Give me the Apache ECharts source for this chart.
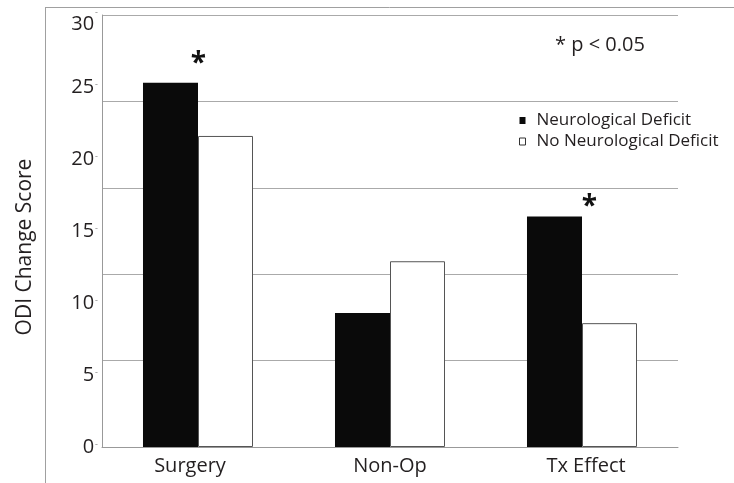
<!DOCTYPE html>
<html>
<head>
<meta charset="utf-8">
<script src="https://cdn.jsdelivr.net/npm/echarts@6/dist/echarts.min.js"></script>
<style>html,body{margin:0;padding:0;background:#fff;}#c{width:734px;height:483px;}</style>
</head>
<body>
<div id="c"></div>
<script>
const categories = ['Surgery', 'Non-Op', 'Tx Effect'];
const neuroDeficit = [25.3, 9.3, 16.0];
const noNeuroDeficit = [21.6, 12.9, 8.6];
const significant = [true, false, true];
const yTicks = [0, 5, 10, 15, 20, 25, 30];
const gridValues = [6, 12, 18, 24];

const FONT = '"Open Sans", sans-serif';
const TXT = '#231f20';

const chart = echarts.init(document.getElementById('c'), null, {renderer: 'canvas'});

const starOffsets = [[28, -5], [0, 0], [35, 4]];
const catStyle = {
  c0: {fontFamily: FONT, fontSize: 20, color: TXT, padding: [0, 16, 0, 0]},
  c1: {fontFamily: FONT, fontSize: 20, color: TXT},
  c2: {fontFamily: FONT, fontSize: 20, color: TXT, padding: [0, 0, 0, 8]}
};

const option = {
  animation: false,
  backgroundColor: '#fff',
  textStyle: {fontFamily: FONT},
  grid: {left: 102, right: 56, top: 15, bottom: 36, containLabel: false},
  graphic: [
    {type: 'line', shape: {x1: 45, y1: 7.5, x2: 734, y2: 7.5}, style: {stroke: '#a0a0a0', lineWidth: 1}, silent: true},
    {type: 'line', shape: {x1: 45.5, y1: 7, x2: 45.5, y2: 483}, style: {stroke: '#a0a0a0', lineWidth: 1}, silent: true},
    {type: 'text', left: 555, top: 35, style: {text: '* p < 0.05', font: '20px ' + FONT, fill: TXT}}
  ],
  legend: {
    orient: 'vertical',
    left: 514,
    top: 107,
    itemWidth: 6,
    itemHeight: 7,
    itemGap: 4,
    icon: 'rect',
    textStyle: {fontFamily: FONT, fontSize: 17, color: TXT, padding: [0, 0, 0, 6]},
    data: [
      {name: 'Neurological Deficit', itemStyle: {color: '#0a0a0a'}},
      {name: 'No Neurological Deficit', itemStyle: {color: '#fff', borderColor: '#333', borderWidth: 1}}
    ]
  },
  xAxis: {
    type: 'category',
    data: categories,
    axisLine: {show: true, lineStyle: {color: '#999', width: 1}},
    axisTick: {show: false},
    axisLabel: {
      fontFamily: FONT, fontSize: 20, color: TXT, margin: 9,
      formatter: function (v, i) { return '{c' + i + '|' + v + '}'; },
      rich: catStyle
    },
    splitLine: {show: false}
  },
  yAxis: [
    {
      type: 'value',
      min: 0,
      max: 30,
      interval: 5,
      name: 'ODI Change Score',
      nameLocation: 'middle',
      nameRotate: 90,
      nameGap: 66,
      nameTextStyle: {fontFamily: FONT, fontSize: 21, color: TXT, padding: [0, 32, 0, 0]},
      axisLine: {show: true, lineStyle: {color: '#999', width: 1}},
      axisTick: {show: false},
      splitLine: {show: false},
      axisLabel: {
        margin: 4,
        formatter: function (v) {
          if (yTicks.indexOf(v) < 0) return '';
          return (v === 30 ? '{top|' + v + '}' : '{n|' + v + '}') + '{t|-}';
        },
        rich: {
          n: {fontFamily: FONT, fontSize: 20, color: TXT},
          top: {fontFamily: FONT, fontSize: 20, color: TXT, padding: [18, 0, 0, 0]},
          t: {fontFamily: FONT, fontSize: 9, color: '#888', padding: [0, 0, 6, 1]}
        }
      }
    },
    {
      type: 'value',
      min: 0,
      max: 30,
      interval: 6,
      show: true,
      axisLine: {show: false},
      axisTick: {show: false},
      axisLabel: {show: false},
      splitLine: {show: true, lineStyle: {color: '#aaa', width: 1}}
    }
  ],
  series: [
    {
      name: 'Neurological Deficit',
      type: 'bar',
      yAxisIndex: 0,
      barGap: '0%',
      barCategoryGap: '42.7%',
      itemStyle: {color: '#0a0a0a'},
      data: neuroDeficit.map(function (v, i) {
        return {
          value: v,
          label: {
            show: significant[i],
            position: 'top',
            formatter: '*',
            fontFamily: FONT,
            fontSize: 28,
            fontWeight: 'bold',
            color: '#111',
            offset: starOffsets[i],
            distance: 0
          }
        };
      })
    },
    {
      name: 'No Neurological Deficit',
      type: 'bar',
      yAxisIndex: 0,
      itemStyle: {color: '#fff', borderColor: '#555', borderWidth: 1},
      data: noNeuroDeficit
    }
  ]
};
chart.setOption(option);
</script>
</body>
</html>
